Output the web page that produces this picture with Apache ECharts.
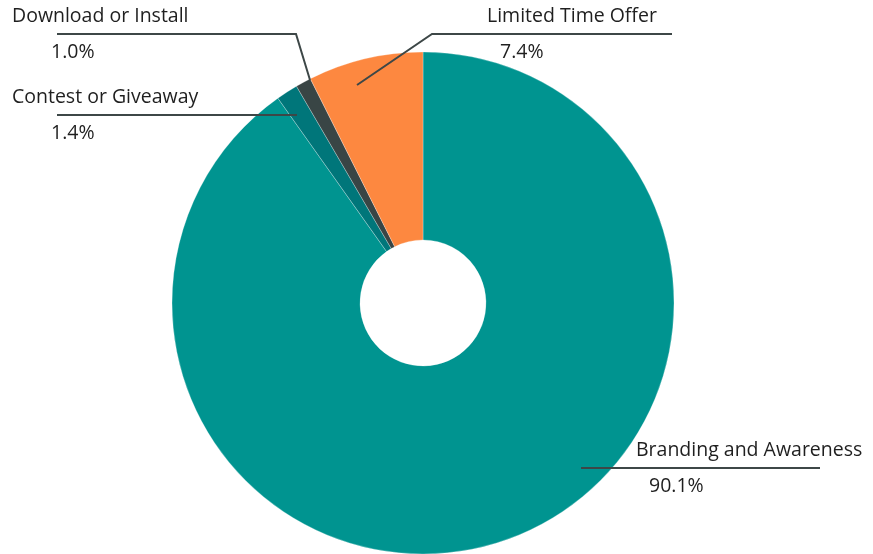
<!DOCTYPE html>
<html>
<head>
<meta charset="utf-8">
<script src="https://cdn.jsdelivr.net/npm/echarts@6/dist/echarts.min.js"></script>
<style>
html,body{margin:0;padding:0;background:#fff;}
#chart{width:873px;height:554px;}
</style>
</head>
<body>
<div id="chart"></div>
<script>
// Data
const categories = ['Branding and Awareness', 'Contest or Giveaway', 'Download or Install', 'Limited Time Offer'];
const values = [90.1, 1.4, 1.0, 7.4];
const colors = ['#009490', '#00767a', '#394545', '#fd8840'];

// Label placement (annotation layout, not data)
const labelLayouts = [
  { x: 636, y: 468, valuePad: 13, line: [[581, 468], [700, 468], [820, 468]] },
  { x: 12,  y: 115, valuePad: 39, line: [[297, 115], [200, 115], [57, 115]] },
  { x: 12,  y: 34,  valuePad: 39, line: [[310, 80], [296, 34], [57, 34]] },
  { x: 487, y: 34,  valuePad: 13, line: [[357, 85], [432, 34], [672, 34]] }
];

const FONT = 'Open Sans';
const FS = 19.5;
const CENTER = [423, 303];
const RADIUS = [63, 251];

const chart = echarts.init(document.getElementById('chart'), null, { renderer: 'canvas' });

const sliceData = categories.map((name, i) => ({
  name: name,
  value: values[i],
  itemStyle: { color: colors[i] }
}));

const labelData = categories.map((name, i) => ({
  name: name,
  value: values[i],
  label: {
    rich: {
      n: { fontFamily: FONT, fontSize: FS, color: '#1f1f1f', lineHeight: 36 },
      v: { fontFamily: FONT, fontSize: FS, color: '#1f1f1f', lineHeight: 36, padding: [0, 0, 0, labelLayouts[i].valuePad] }
    }
  }
}));

chart.setOption({
  animation: false,
  backgroundColor: '#ffffff',
  series: [{
    type: 'pie',
    z: 2,
    center: CENTER,
    radius: RADIUS,
    startAngle: 90,
    clockwise: true,
    silent: true,
    itemStyle: { borderColor: 'rgba(255,255,255,0.45)', borderWidth: 0.6 },
    emphasis: { disabled: true },
    label: { show: false },
    labelLine: { show: false },
    data: sliceData
  }, {
    type: 'pie',
    z: 5,
    center: CENTER,
    radius: RADIUS,
    startAngle: 90,
    clockwise: true,
    silent: true,
    avoidLabelOverlap: false,
    itemStyle: { color: 'rgba(0,0,0,0)', borderWidth: 0 },
    emphasis: { disabled: true },
    label: {
      show: true,
      position: 'outside',
      formatter: function (p) { return '{n|' + p.name + '}\n{v|' + p.value.toFixed(1) + '%}'; },
      align: 'left',
      verticalAlign: 'middle'
    },
    labelLine: {
      show: true,
      showAbove: true,
      lineStyle: { color: '#3d4747', width: 2 }
    },
    labelLayout: function (params) {
      const L = labelLayouts[params.dataIndex];
      return {
        x: L.x,
        y: L.y,
        align: 'left',
        verticalAlign: 'middle',
        labelLinePoints: L.line
      };
    },
    data: labelData
  }]
});
</script>
</body>
</html>
